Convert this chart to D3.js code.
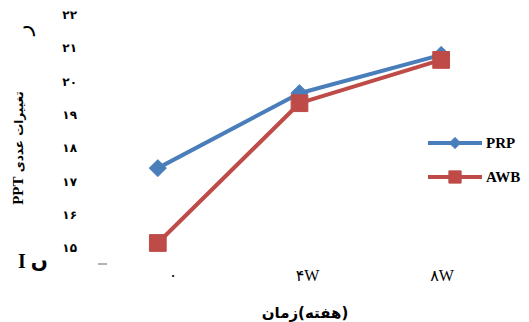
<!DOCTYPE html>
<html>
<head>
<meta charset="utf-8">
<script src="https://d3js.org/d3.v7.min.js"></script>
<style>
  body { margin: 0; background: #fff; }
  svg { display: block; }
  .num { font-family: "DejaVu Sans", sans-serif; font-weight: bold; font-size: 12px; fill: #000; }
  .lat { font-family: "Liberation Serif", "DejaVu Sans", serif; font-size: 16px; fill: #000; }
  .leg { font-family: "Liberation Serif", serif; font-weight: bold; font-size: 15px; fill: #000; }
  .fa { font-family: "DejaVu Sans", sans-serif; font-weight: bold; font-size: 14px; fill: #000; }
</style>
</head>
<body>
<svg width="529" height="322"></svg>
<script>
// data
const weeks = ["0", "4W", "8W"];
const weekLabels = ["۰", "۴W", "۸W"];
const prp = [17.4, 19.65, 20.8];
const awb = [15.15, 19.35, 20.65];
const yTicks = [15, 16, 17, 18, 19, 20, 21, 22];
const yTickLabels = ["۱۵", "۱۶", "۱۷", "۱۸", "۱۹", "۲۰", "۲۱", "۲۲"];
const seriesNames = ["PRP", "AWB"];
const seriesColors = ["#4a7ebb", "#be4b48"];
const xTitleParts = ["زمان", "(هفته)"];

const svg = d3.select("svg");

var x = d3.scaleBand().domain(weeks).range([87, 512]);
var xl = d3.scalePoint().domain(weeks).range([173, 442]);
var y = d3.scaleLinear().domain([15, 22]).range([248, 15]);

// y tick labels
svg.append("g").selectAll("text")
  .data(yTicks)
  .enter().append("text")
  .attr("class", "num")
  .attr("x", 77)
  .attr("y", d => y(d))
  .attr("dy", "0.35em")
  .attr("text-anchor", "end")
  .text((d, i) => yTickLabels[i]);

// x tick labels
svg.append("g").selectAll("text")
  .data(weeks)
  .enter().append("text")
  .attr("class", "lat")
  .attr("x", d => xl(d))
  .attr("y", 281)
  .attr("text-anchor", "middle")
  .text((d, i) => weekLabels[i]);

// stray tick mark
svg.append("line").attr("x1", 98).attr("x2", 107).attr("y1", 264).attr("y2", 264)
  .attr("stroke", "#999").attr("stroke-width", 1.5);

// x title, two pieces laid out left to right
var tParts = xTitleParts.map(t => svg.append("text").attr("class", "fa")
  .attr("y", 318).attr("text-anchor", "middle")
  .style("font-size", "15px").text(t));
var w = tParts.map(t => t.node().getComputedTextLength());
var left = 305 - (w[0] + w[1]) / 2;
tParts[0].attr("x", left + w[0] / 2);
tParts[1].attr("x", left + w[0] + w[1] / 2);

svg.append("text").attr("class", "fa")
  .attr("transform", "translate(23,148) rotate(-90)")
  .attr("text-anchor", "middle")
  .style("font-size", "12px")
  .html('<tspan style="font-family:Liberation Serif;font-weight:bold;font-size:15px">PPT</tspan> تغییرات عددی');

// stray glyphs at the left edge
svg.append("text").attr("class", "fa")
  .attr("transform", "translate(30,30) rotate(-90)")
  .attr("text-anchor", "middle")
  .style("font-weight", "normal")
  .style("font-size", "22px")
  .text("ر");
svg.append("text").attr("class", "lat")
  .attr("x", 18).attr("y", 268)
  .style("font-size", "20px")
  .style("font-weight", "bold")
  .text("I ں");

// lines
const cx = i => x(weeks[i]) + x.bandwidth() / 2;
const line = d3.line()
  .x((d, i) => cx(i))
  .y(d => y(d));

const series = [prp, awb];
series.forEach((s, k) => {
  svg.append("path")
    .datum(s)
    .attr("fill", "none")
    .attr("stroke", seriesColors[k])
    .attr("stroke-width", 4)
    .attr("stroke-linejoin", "round")
    .attr("d", line);
});

// markers: diamond = rotated square
const sizes = [140, 280];
series.forEach((s, k) => {
  svg.append("g").selectAll("path")
    .data(s)
    .enter().append("path")
    .attr("transform", (d, i) => "translate(" + cx(i) + "," + y(d) + ")" + (k == 0 ? " rotate(45)" : ""))
    .attr("d", d3.symbol().type(d3.symbolSquare).size(sizes[k]))
    .attr("fill", seriesColors[k])
    .attr("stroke", seriesColors[k])
    .attr("stroke-width", 1)
    .attr("stroke-linejoin", "round");
});

// legend
const legY = [143, 177];
const legSizes = [60, 150];
seriesNames.forEach((n, k) => {
  const g = svg.append("g").attr("transform", "translate(0," + legY[k] + ")");
  g.append("line").attr("x1", 428).attr("x2", 482).attr("y1", 0).attr("y2", 0)
    .attr("stroke", seriesColors[k]).attr("stroke-width", 4);
  g.append("path").attr("transform", "translate(455,0)" + (k == 0 ? " rotate(45)" : ""))
    .attr("d", d3.symbol().type(d3.symbolSquare).size(legSizes[k]))
    .attr("fill", seriesColors[k]).attr("stroke", seriesColors[k]).attr("stroke-linejoin", "round");
  g.append("text").attr("class", "leg").attr("x", 486).attr("y", 5).text(n);
});
</script>
</body>
</html>
